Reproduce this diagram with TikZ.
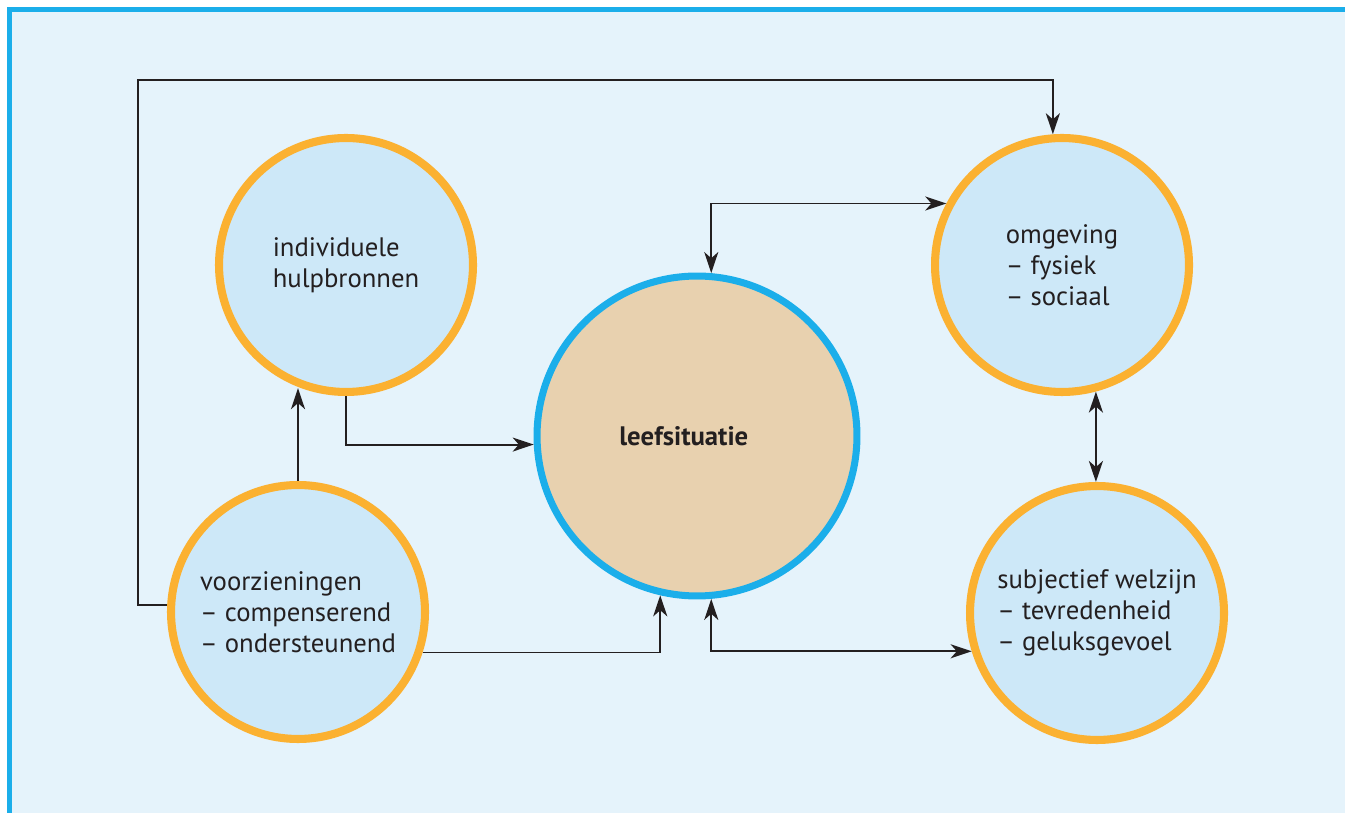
\documentclass[tikz,border=0pt]{standalone}
\usepackage{fontspec}
\setmainfont{PT Sans}
\usetikzlibrary{arrows.meta}
\definecolor{bgblue}{HTML}{E5F3FB}
\definecolor{framecyan}{HTML}{1BAEEA}
\definecolor{circfill}{HTML}{CDE8F8}
\definecolor{circorange}{HTML}{FBB131}
\definecolor{beige}{HTML}{E8D1AF}
\definecolor{ink}{HTML}{231F20}
\begin{document}
\begin{tikzpicture}[x=0.02cm,y=-0.02cm,
  bubble/.style={circle,draw=circorange,fill=circfill,line width=4.6pt,inner sep=0pt,
    minimum size=5.08cm,align=left,text=ink,font=\fontsize{15.2}{17.8}\selectfont},
  core/.style={circle,draw=framecyan,fill=beige,line width=4pt,inner sep=0pt,
    minimum size=6.4cm,text=ink,font=\fontsize{15.2}{17.8}\selectfont\bfseries},
  tip/.tip={Stealth[length=12pt,width=8pt,inset=3.5pt]},
  conn/.style={draw=ink,line width=1.1pt,tip-tip},
  onearrow/.style={draw=ink,line width=1.1pt,-tip}]
\useasboundingbox (0,0) rectangle (1345,813);
\fill[white] (0,0) rectangle (1345,813);
\fill[bgblue] (9.5,9.5) rectangle (1345,813);
\draw[framecyan,line width=2.3pt] (9.5,813) -- (9.5,9.5) -- (1345,9.5);

\node[bubble] (ih) at (346,265) {individuele\\hulpbronnen};
\node[core] (ls) at (697,436) {\hspace*{-15pt}leefsituatie};
\node[bubble] (om) at (1062,265) {omgeving\\-- fysiek\\-- sociaal};
\node[bubble] (vz) at (298,612) {voorzieningen\\-- compenserend\\-- ondersteunend};
\node[bubble] (sw) at (1097,613) {subjectief welzijn\\-- tevredenheid\\-- geluksgevoel};

\coordinate (tl) at (138,80);
\draw[onearrow] (vz.177) -| (tl) -| (om.94);
\draw[onearrow] (vz.north) -- (vz.north |- ih.250);
\draw[onearrow] (ih.south) |- (ls.183);
\draw[onearrow] (vz.-18) -| (ls.257);
\draw[conn] (ls.275) |- (sw.197);
\draw[conn] (ls.85) |- (om.152);
\draw[conn] (om.285) -- (om.285 |- sw.north);
\end{tikzpicture}
\end{document}
